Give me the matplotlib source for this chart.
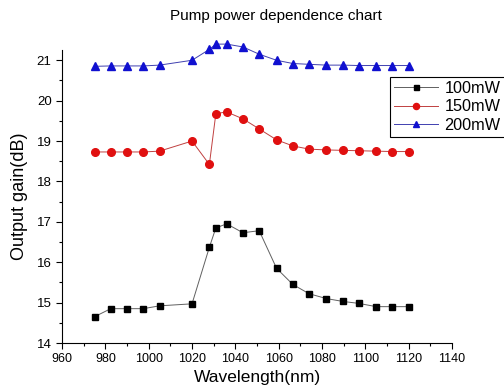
import matplotlib
matplotlib.use("Agg")
import matplotlib.pyplot as plt
from matplotlib.ticker import MultipleLocator

plt.rcParams['font.family'] = ['Liberation Sans', 'DejaVu Sans']

# wavelength (nm)
wavelength = [975, 982.5, 990, 997.5, 1005, 1020, 1028, 1031, 1036, 1043.5,
              1051, 1059, 1066.5, 1074, 1082, 1089.5, 1097, 1105, 1112.5, 1120]

# output gain (dB) per pump power
gain_100 = [14.65, 14.85, 14.85, 14.85, 14.92, 14.97, 16.37, 16.85, 16.95, 16.73,
            16.78, 15.85, 15.45, 15.22, 15.1, 15.03, 14.98, 14.9, 14.9, 14.9]
gain_150 = [18.73, 18.73, 18.73, 18.73, 18.75, 19.0, 18.42, 19.68, 19.72, 19.55,
            19.3, 19.03, 18.88, 18.8, 18.78, 18.77, 18.76, 18.75, 18.74, 18.74]
gain_200 = [20.85, 20.86, 20.86, 20.86, 20.88, 21.0, 21.27, 21.4, 21.4, 21.33,
            21.15, 21.0, 20.92, 20.9, 20.88, 20.88, 20.87, 20.87, 20.87, 20.87]

labels = ['100mW', '150mW', '200mW']

fig = plt.figure(figsize=(5.04, 3.92), dpi=100)
ax = fig.add_axes([0.123, 0.125, 0.774, 0.747])

ax.plot(wavelength, gain_100, color='#606060', lw=0.7, marker='s', ms=4.5,
        mfc='black', mec='black', label=labels[0], clip_on=False)
ax.plot(wavelength, gain_150, color='#c04040', lw=0.7, marker='o', ms=5.5,
        mfc='#e01010', mec='#e01010', label=labels[1], clip_on=False)
ax.plot(wavelength, gain_200, color='#4040b0', lw=0.7, marker='^', ms=5.5,
        mfc='#1010d0', mec='#1010d0', label=labels[2], clip_on=False)

ax.set_xlim(960, 1140)
ax.set_ylim(14, 21.25)
ax.xaxis.set_major_locator(MultipleLocator(20))
ax.xaxis.set_minor_locator(MultipleLocator(10))
ax.yaxis.set_major_locator(MultipleLocator(1))
ax.yaxis.set_minor_locator(MultipleLocator(0.5))
ax.tick_params(which='major', direction='out', length=4, width=0.8)
ax.tick_params(which='minor', direction='out', length=2.5, width=0.8)
ax.tick_params(axis='x', labelsize=9)
ax.tick_params(axis='y', labelsize=9.5)

for s in ['top', 'right']:
    ax.spines[s].set_visible(False)

ax.set_xlabel('Wavelength(nm)', fontsize=12.5, labelpad=3)
ax.set_ylabel('Output gain(dB)', fontsize=13, labelpad=6)
fig.text(0.548, 0.958, 'Pump power dependence chart', ha='center', va='center', fontsize=11)

leg = ax.legend(loc='upper left', bbox_to_anchor=(0.841, 0.908), borderaxespad=0,
                fontsize=11.7, frameon=True, fancybox=False, edgecolor='black',
                framealpha=1, handlelength=2.7, borderpad=0.25, labelspacing=0.2,
                handletextpad=0.4, markerscale=0.8)
leg.get_frame().set_linewidth(0.8)

fig.savefig('out.png', dpi=100)
